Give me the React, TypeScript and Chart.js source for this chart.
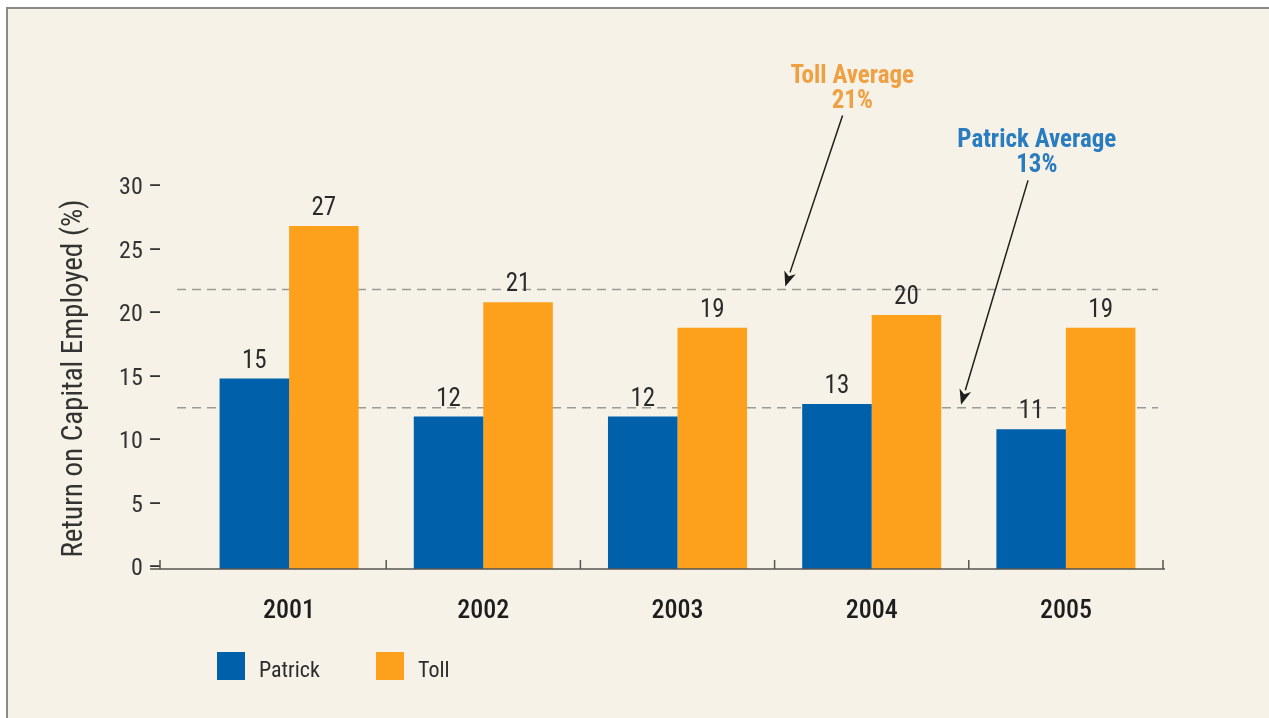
import React, { useEffect, useRef } from "react";
import { Chart, registerables } from "chart.js";

Chart.register(...registerables);

// ---- data ----
const categories = ["2001", "2002", "2003", "2004", "2005"];
const seriesNames = ["Patrick", "Toll"];
const patrickValues = [15, 12, 12, 13, 11];
const tollValues = [27, 21, 19, 20, 19];
const yTickValues = [0, 5, 10, 15, 20, 25, 30];
const yTitle = "Return on Capital Employed (%)";

// average annotations (Toll, Patrick)
const averageNames = ["Toll Average", "Patrick Average"];
const averageTexts = ["21%", "13%"];
const averageLineLevels = [22, 12.7];
// annotation anchors in data units (category index, value)
const averageLabelX = [2.9, 3.85];
const averageLabelY = [38.3, 33.2];
const arrowStartX = [2.85, 3.805];
const arrowStartY = [35.7, 30.6];
const arrowTipX = [2.555, 3.46];

// ---- styles ----
const FONT = '"Roboto Condensed", "Liberation Sans Narrow", "DejaVu Sans Condensed", "Liberation Sans", sans-serif';
const seriesColors = ["#0061aa", "#fda11d"];
const averageColors = ["#eea043", "#2a7cc0"];
const BG = "#f6f2e7";
const TEXT = "#2b2b2b";

const W = 1269;
const H = 718;

const decorPlugin = {
  id: "decor",
  beforeDraw(chart: any) {
    const { ctx } = chart;
    ctx.save();
    ctx.fillStyle = "#ffffff";
    ctx.fillRect(0, 0, W, H);
    ctx.fillStyle = BG;
    ctx.fillRect(7, 7, W - 7, H - 7);
    ctx.strokeStyle = "#8a8a86";
    ctx.lineWidth = 2;
    ctx.beginPath();
    ctx.moveTo(7, H);
    ctx.lineTo(7, 8);
    ctx.lineTo(W, 8);
    ctx.stroke();
    ctx.restore();
  },
  beforeDatasetsDraw(chart: any) {
    const { ctx, chartArea, scales } = chart;
    const y = scales.y;
    ctx.save();
    // dashed average lines
    ctx.strokeStyle = "#9a9a96";
    ctx.lineWidth = 1.5;
    ctx.setLineDash([9, 6]);
    averageLineLevels.forEach((v) => {
      const py = y.getPixelForValue(v);
      ctx.beginPath();
      ctx.moveTo(chartArea.left - 15, py);
      ctx.lineTo(chartArea.right - 5, py);
      ctx.stroke();
    });
    ctx.restore();
  },
  afterDatasetsDraw(chart: any) {
    const { ctx, chartArea, scales } = chart;
    const x = scales.x;
    const y = scales.y;
    ctx.save();
    // x axis line with ticks
    const y0 = y.getPixelForValue(0);
    ctx.strokeStyle = "#55554f";
    ctx.lineWidth = 1.5;
    ctx.beginPath();
    ctx.moveTo(chartArea.left - 42, y0);
    ctx.lineTo(chartArea.right + 2, y0);
    ctx.stroke();
    const tickXs = [chartArea.left - 32];
    for (let i = 0; i < categories.length; i++) {
      tickXs.push(x.getPixelForValue(i + 0.5));
    }
    ctx.beginPath();
    tickXs.forEach((tx) => {
      ctx.moveTo(tx, y0);
      ctx.lineTo(tx, y0 - 9);
    });
    ctx.stroke();

    // value labels
    ctx.fillStyle = TEXT;
    ctx.font = `25px ${FONT}`;
    ctx.textAlign = "center";
    ctx.textBaseline = "alphabetic";
    chart.data.datasets.forEach((ds: any, di: number) => {
      const meta = chart.getDatasetMeta(di);
      meta.data.forEach((bar: any, i: number) => {
        ctx.fillText(String(ds.data[i]), bar.x, bar.y - 11);
      });
    });

    // annotations
    averageNames.forEach((name, i) => {
      const lx = x.getPixelForValue(averageLabelX[i]);
      const ly = y.getPixelForValue(averageLabelY[i]);
      ctx.fillStyle = averageColors[i];
      ctx.font = `bold 25px ${FONT}`;
      ctx.textAlign = "center";
      ctx.textBaseline = "alphabetic";
      ctx.fillText(name, lx, ly);
      ctx.fillText(averageTexts[i], lx, ly + 25);

      const sx = x.getPixelForValue(arrowStartX[i]);
      const sy = y.getPixelForValue(arrowStartY[i]);
      const tx = x.getPixelForValue(arrowTipX[i]);
      const ty = y.getPixelForValue(averageLineLevels[i]) - 3;
      const ang = Math.atan2(ty - sy, tx - sx);
      const len = 15;
      const half = 6;
      const bx = tx - len * Math.cos(ang);
      const by = ty - len * Math.sin(ang);
      ctx.strokeStyle = "#1e1e1e";
      ctx.fillStyle = "#1e1e1e";
      ctx.lineWidth = 1.5;
      ctx.beginPath();
      ctx.moveTo(sx, sy);
      ctx.lineTo(bx, by);
      ctx.stroke();
      ctx.beginPath();
      ctx.moveTo(tx, ty);
      ctx.lineTo(bx + half * Math.sin(ang), by - half * Math.cos(ang));
      ctx.lineTo(tx - (len - 4) * Math.cos(ang), ty - (len - 4) * Math.sin(ang));
      ctx.lineTo(bx - half * Math.sin(ang), by + half * Math.cos(ang));
      ctx.closePath();
      ctx.fill();
    });

    // legend
    const legendY = chartArea.bottom + 83;
    let lxPos = chartArea.left + 25;
    ctx.font = `22px ${FONT}`;
    ctx.textAlign = "left";
    ctx.textBaseline = "middle";
    seriesNames.forEach((name, i) => {
      ctx.fillStyle = seriesColors[i];
      ctx.fillRect(lxPos, legendY, 28, 28);
      ctx.fillStyle = TEXT;
      ctx.fillText(name, lxPos + 42, legendY + 19);
      lxPos += 159;
    });
    ctx.restore();
  },
};

export default function App() {
  const canvasRef = useRef<HTMLCanvasElement | null>(null);

  useEffect(() => {
    const canvas = canvasRef.current;
    if (!canvas) return;
    const chart = new Chart(canvas, {
      type: "bar",
      data: {
        labels: categories,
        datasets: [
          {
            label: seriesNames[0],
            data: patrickValues,
            backgroundColor: seriesColors[0],
            categoryPercentage: 0.716,
            barPercentage: 1,
          },
          {
            label: seriesNames[1],
            data: tollValues,
            backgroundColor: seriesColors[1],
            categoryPercentage: 0.716,
            barPercentage: 1,
          },
        ],
      },
      options: {
        animation: false,
        responsive: false,
        devicePixelRatio: 1,
        layout: { padding: { left: 0, right: W - 1163, top: 188, bottom: 0 } },
        plugins: {
          legend: { display: false },
          tooltip: { enabled: false },
        },
        scales: {
          x: {
            grid: { display: false, drawTicks: false },
            border: { display: false },
            ticks: {
              color: "#1e1e1e",
              font: { family: FONT, size: 26, weight: "500" },
              padding: 27,
            },
            afterFit: (s: any) => {
              s.height = H - 569;
            },
          },
          y: {
            min: 0,
            max: 30,
            afterBuildTicks: (s: any) => {
              s.ticks = yTickValues.map((v) => ({ value: v }));
            },
            grid: { display: false, drawTicks: false },
            border: { display: false },
            ticks: {
              color: "#333333",
              font: { family: FONT, size: 24 },
              padding: 30,
              callback: (v: any) => `${v} –`,
            },
            title: {
              display: true,
              text: yTitle,
              color: "#333333",
              font: { family: FONT, size: 29 },
              padding: { top: 57, bottom: 0 },
            },
            afterFit: (s: any) => {
              s.width = 192;
            },
          },
        },
      },
      plugins: [decorPlugin],
    });
    return () => chart.destroy();
  }, []);

  return (
    <div style={{ position: "fixed", left: 0, top: 0, width: W, height: H }}>
      <canvas ref={canvasRef} width={W} height={H} style={{ display: "block", width: W, height: H }} />
    </div>
  );
}
